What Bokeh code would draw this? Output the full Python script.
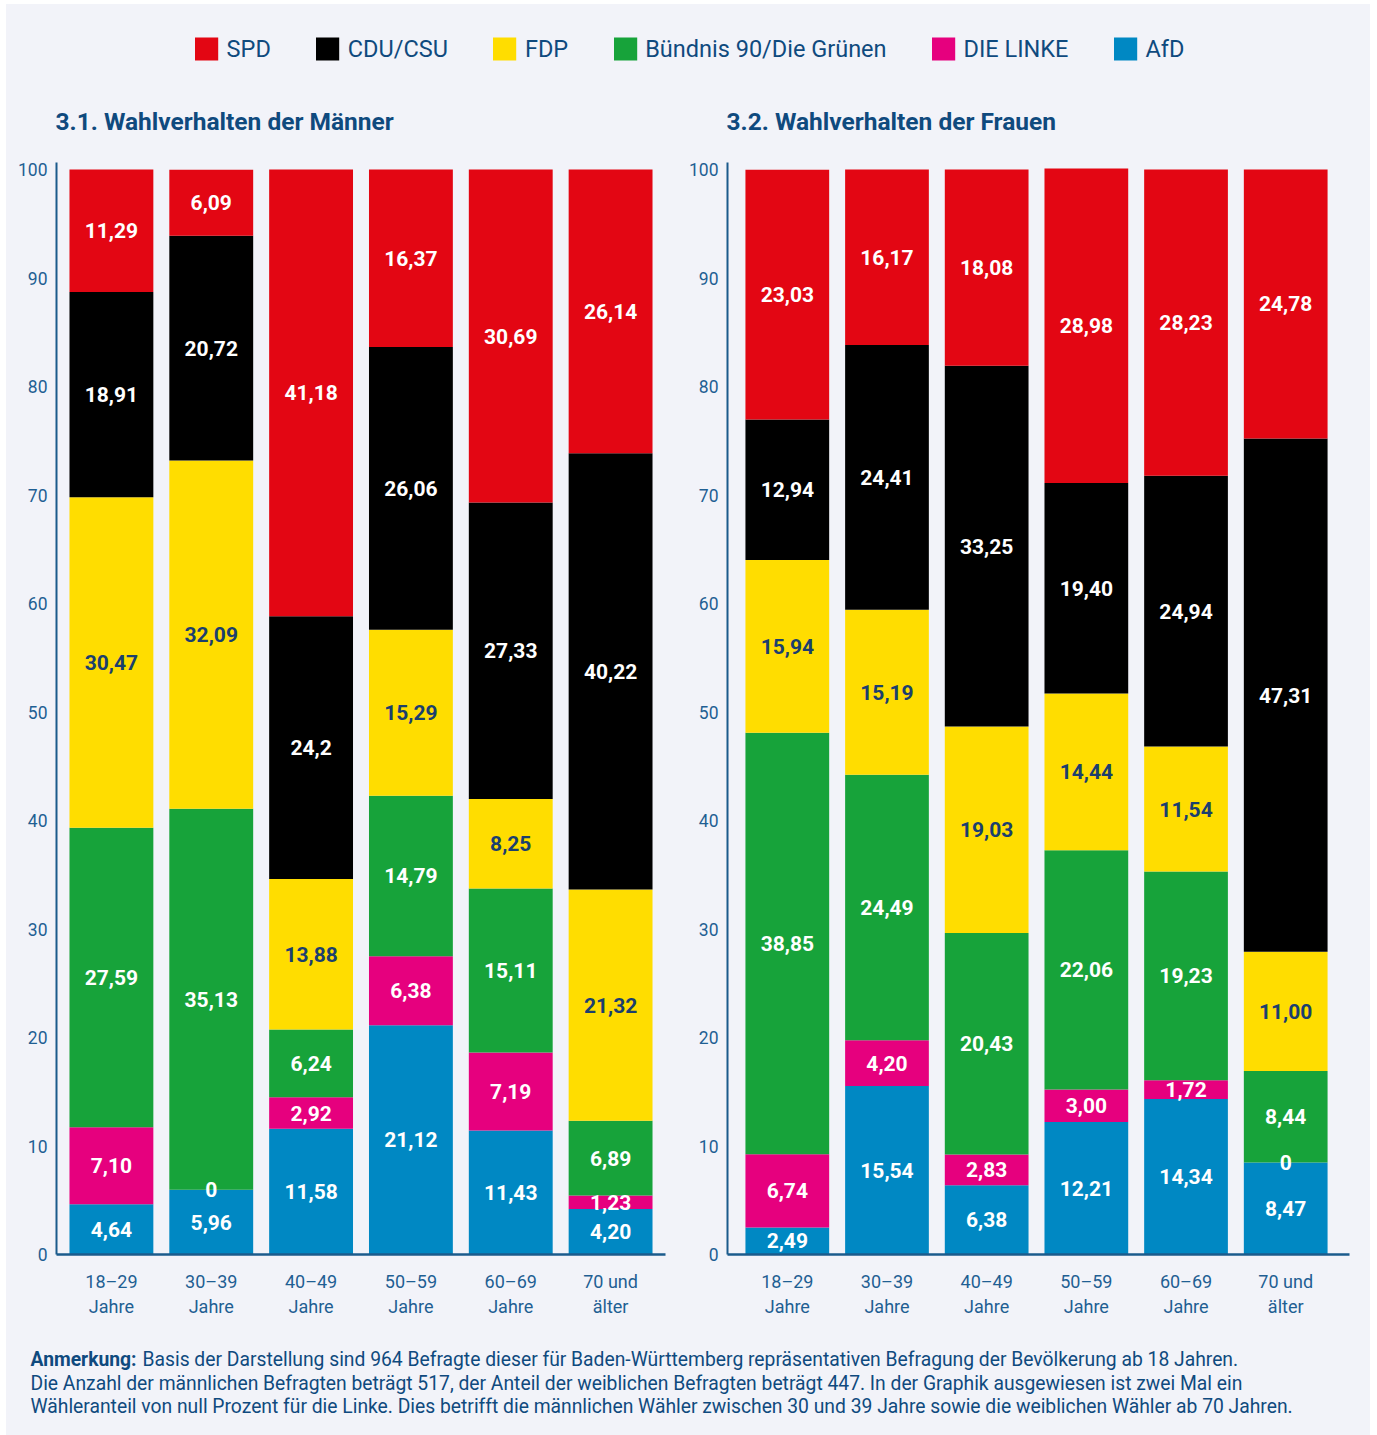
from bokeh.plotting import figure
from bokeh.models import ColumnDataSource, Range1d, FixedTicker, Legend, LegendItem, Label
from bokeh.layouts import column, row
from bokeh.embed import file_html
from bokeh.resources import INLINE
from bokeh.core.properties import value

# ---------------- data ----------------
CATEGORIES = ["18–29\nJahre", "30–39\nJahre", "40–49\nJahre", "50–59\nJahre", "60–69\nJahre", "70 und\nälter"]
PARTIES = ["SPD", "CDU/CSU", "FDP", "Bündnis 90/Die Grünen", "DIE LINKE", "AfD"]
STACK_ORDER = ["AfD", "DIE LINKE", "Bündnis 90/Die Grünen", "FDP", "CDU/CSU", "SPD"]  # bottom -> top

MEN_SPD = ["11,29", "6,09", "41,18", "16,37", "30,69", "26,14"]
MEN_CDU = ["18,91", "20,72", "24,2", "26,06", "27,33", "40,22"]
MEN_FDP = ["30,47", "32,09", "13,88", "15,29", "8,25", "21,32"]
MEN_GRUENE = ["27,59", "35,13", "6,24", "14,79", "15,11", "6,89"]
MEN_LINKE = ["7,10", "0", "2,92", "6,38", "7,19", "1,23"]
MEN_AFD = ["4,64", "5,96", "11,58", "21,12", "11,43", "4,20"]

WOMEN_SPD = ["23,03", "16,17", "18,08", "28,98", "28,23", "24,78"]
WOMEN_CDU = ["12,94", "24,41", "33,25", "19,40", "24,94", "47,31"]
WOMEN_FDP = ["15,94", "15,19", "19,03", "14,44", "11,54", "11,00"]
WOMEN_GRUENE = ["38,85", "24,49", "20,43", "22,06", "19,23", "8,44"]
WOMEN_LINKE = ["6,74", "4,20", "2,83", "3,00", "1,72", "0"]
WOMEN_AFD = ["2,49", "15,54", "6,38", "12,21", "14,34", "8,47"]

Y_TICKS = [0, 10, 20, 30, 40, 50, 60, 70, 80, 90, 100]

TITLE_MEN = "3.1. Wahlverhalten der Männer"
TITLE_WOMEN = "3.2. Wahlverhalten der Frauen"

NOTE_BOLD = "Anmerkung:"
NOTE_LINES = [
    "Basis der Darstellung sind 964 Befragte dieser für Baden-Württemberg repräsentativen Befragung der Bevölkerung ab 18 Jahren.",
    "Die Anzahl der männlichen Befragten beträgt 517, der Anteil der weiblichen Befragten beträgt 447. In der Graphik ausgewiesen ist zwei Mal ein",
    "Wähleranteil von null Prozent für die Linke. Dies betrifft die männlichen Wähler zwischen 30 und 39 Jahre sowie die weiblichen Wähler ab 70 Jahren.",
]

# ---------------- style ----------------
COLORS = {
    "SPD": "#e30613",
    "CDU/CSU": "#000000",
    "FDP": "#ffdd00",
    "Bündnis 90/Die Grünen": "#17a33a",
    "DIE LINKE": "#e6007e",
    "AfD": "#0088c3",
}
BG = "#f2f3f9"
NAVY = "#0f4a7e"
TICK_COL = "#1f5f93"
AXIS_COL = "#1b5b8c"
FONT = "Roboto"

MEN = {"SPD": MEN_SPD, "CDU/CSU": MEN_CDU, "FDP": MEN_FDP,
       "Bündnis 90/Die Grünen": MEN_GRUENE, "DIE LINKE": MEN_LINKE, "AfD": MEN_AFD}
WOMEN = {"SPD": WOMEN_SPD, "CDU/CSU": WOMEN_CDU, "FDP": WOMEN_FDP,
         "Bündnis 90/Die Grünen": WOMEN_GRUENE, "DIE LINKE": WOMEN_LINKE, "AfD": WOMEN_AFD}

TOTAL_W = 1364
TOP_H = 138
PANEL_H = 1193
FOOT_H = 100
P1_W, P1_BL, P1_BR = 678, 50, 19
P2_W, P2_BL, P2_BR = 686, 43, 21


def num(s):
    return float(s.replace(",", "."))


def blank_strip(height):
    f = figure(width=TOTAL_W, height=height, output_backend="svg", toolbar_location=None,
               x_axis_location=None, y_axis_location=None, min_border=0,
               x_range=Range1d(0, 1), y_range=Range1d(0, 1))
    f.background_fill_color = BG
    f.border_fill_color = BG
    f.outline_line_color = None
    f.grid.visible = False
    return f


def make_panel(data, width, height, bl, br, xr):
    xs = list(range(len(CATEGORIES)))
    src = {"x": xs}
    keys = []
    for i, party in enumerate(STACK_ORDER):
        k = f"s{i}"
        keys.append(k)
        src[k] = [num(v) for v in data[party]]
    source = ColumnDataSource(src)

    p = figure(width=width, height=height, output_backend="svg", toolbar_location=None,
               x_range=Range1d(*xr), y_range=Range1d(0, 100.65),
               min_border_left=bl, min_border_right=br, min_border_top=20, min_border_bottom=81)
    p.background_fill_color = BG
    p.border_fill_color = BG
    p.outline_line_color = None
    p.grid.visible = False

    p.vbar_stack(keys, x="x", width=0.84, source=source,
                 color=[COLORS[pt] for pt in STACK_ORDER], line_color=None)

    # value labels at segment mid points
    lx, ly, lt, lc = [], [], [], []
    for j in xs:
        base = 0.0
        for party in STACK_ORDER:
            s = data[party][j]
            v = num(s)
            lx.append(j)
            ly.append(base + v / 2)
            lt.append(s)
            lc.append("#1b3f6e" if party == "FDP" else "#ffffff")
            base += v
    p.text(x=lx, y=ly, text=lt, text_color=lc, text_font=value(FONT), text_font_style="bold",
           text_font_size="21px", text_align="center", text_baseline="middle")

    xa = p.xaxis[0]
    xa.ticker = FixedTicker(ticks=xs)
    xa.major_label_overrides = {i: c for i, c in enumerate(CATEGORIES)}
    xa.major_label_text_font = FONT
    xa.major_label_text_font_size = "18px"
    xa.major_label_text_color = TICK_COL
    xa.major_label_standoff = 16
    xa.major_tick_line_color = None
    xa.minor_tick_line_color = None
    xa.major_tick_out = 0
    xa.major_tick_in = 0
    xa.minor_tick_out = 0
    xa.axis_line_color = AXIS_COL
    xa.axis_line_width = 2.5

    ya = p.yaxis[0]
    ya.ticker = FixedTicker(ticks=Y_TICKS)
    ya.major_label_text_font = FONT
    ya.major_label_text_font_size = "17.5px"
    ya.major_label_text_color = TICK_COL
    ya.major_label_standoff = 9
    ya.major_tick_line_color = None
    ya.minor_tick_line_color = None
    ya.major_tick_out = 0
    ya.major_tick_in = 0
    ya.minor_tick_out = 0
    ya.axis_line_color = AXIS_COL
    ya.axis_line_width = 2
    return p


# top strip: legend + panel headings
top = blank_strip(TOP_H)
items = []
for party in PARTIES:
    # glyphs placed outside the visible range: they only feed the legend swatches
    r = top.vbar(x=[5], top=[1], width=0.1, color=COLORS[party], line_color=None)
    items.append(LegendItem(label=party, renderers=[r]))
legend = Legend(items=items, orientation="horizontal", location="top_center",
                glyph_width=29, glyph_height=29, label_standoff=6, spacing=42,
                padding=0, margin=30, border_line_color=None, background_fill_alpha=0,
                label_text_font=FONT, label_text_font_size="23.5px", label_text_color=NAVY)
top.add_layout(legend, "center")
for tx, t in [(P1_BL - 1, TITLE_MEN), (P1_W + P2_BL - 1, TITLE_WOMEN)]:
    top.add_layout(Label(x=tx, y=21, x_units="screen", y_units="screen", text=t,
                         text_font=FONT, text_font_size="24.5px", text_font_style="bold",
                         text_color=NAVY, text_baseline="middle"))

p1 = make_panel(MEN, P1_W, PANEL_H, P1_BL, P1_BR, (-0.55, 5.55))
p2 = make_panel(WOMEN, P2_W, PANEL_H, P2_BL, P2_BR, (-0.6, 5.64))

# footnote strip
foot = blank_strip(FOOT_H)
line_y = [76, 52, 29]
foot.add_layout(Label(x=24, y=line_y[0], x_units="screen", y_units="screen", text=NOTE_BOLD,
                      text_font=FONT, text_font_size="19.3px", text_font_style="bold",
                      text_color=NAVY, text_baseline="middle"))
for i, t in enumerate(NOTE_LINES):
    foot.add_layout(Label(x=136 if i == 0 else 24, y=line_y[i], x_units="screen", y_units="screen",
                          text=t, text_font=FONT, text_font_size="19.3px",
                          text_color=NAVY, text_baseline="middle"))

layout = column(top, row(p1, p2, styles={"background-color": BG}), foot,
                margin=(4, 0, 0, 6), styles={"background-color": BG})
open("out.html", "w").write(file_html(layout, INLINE))
